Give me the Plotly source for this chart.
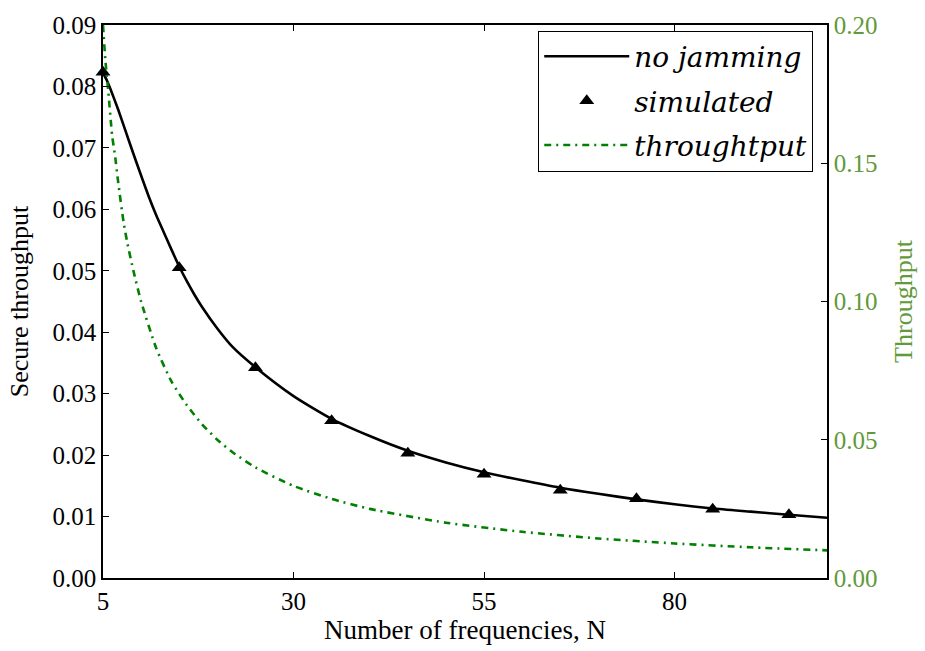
import plotly.graph_objects as go

# Secure throughput, "no jamming" analytic curve
n_line = [5, 5.5, 6, 7, 8, 9, 10, 11, 12, 13, 14, 15, 16, 17, 18, 20, 22, 25,
          30, 35, 40, 45, 50, 55, 60, 65, 70, 75, 80, 85, 90, 95, 100]
secure_line = [0.0822, 0.0810, 0.0795, 0.0762, 0.0726, 0.0690, 0.0655, 0.0621,
               0.0590, 0.0562, 0.0534, 0.0507, 0.0483, 0.0461, 0.0441, 0.0406,
               0.0376, 0.0343, 0.0296, 0.0259, 0.0231, 0.0207, 0.0188, 0.0172,
               0.0159, 0.0147, 0.0137, 0.0128, 0.0120, 0.0113, 0.0108, 0.0103,
               0.0098]

# Simulated points
n_sim = [5, 15, 25, 35, 45, 55, 65, 75, 85, 95]
secure_sim = [0.0823, 0.0505, 0.0342, 0.0256, 0.0203, 0.0169, 0.0143, 0.0129,
              0.0112, 0.0103]

# Throughput (right axis)
n_thr = [5, 5.3, 5.7, 6.2, 6.6, 7, 7.7, 8.2, 9, 10, 12, 14, 16, 18, 20, 22, 25,
         30, 35, 40, 50, 60, 70, 80, 90, 100]
throughput = [0.200, 0.1876, 0.1758, 0.160, 0.1523, 0.143, 0.1287, 0.1211,
              0.111, 0.100, 0.083, 0.071, 0.0625, 0.0556, 0.050, 0.0455, 0.040,
              0.0333, 0.0286, 0.025, 0.020, 0.0167, 0.0143, 0.0125, 0.0111,
              0.0100]

x_ticks = [5, 30, 55, 80]
y_ticks = [0.00, 0.01, 0.02, 0.03, 0.04, 0.05, 0.06, 0.07, 0.08, 0.09]
y2_ticks = [0.00, 0.05, 0.10, 0.15, 0.20]

FONT = "Liberation Serif, Times New Roman, serif"
LEG_FONT = "DejaVu Serif, serif"
RIGHT_COL = "#62993a"

fig = go.Figure()
fig.add_trace(go.Scatter(x=n_line, y=secure_line, mode="lines",
                         name="<i>no jamming</i>",
                         line=dict(color="black", width=2.6, shape="spline", smoothing=0.6),
                         legendgroup="a"))
fig.add_trace(go.Scatter(x=n_sim, y=secure_sim, mode="markers",
                         name="<i>simulated</i>",
                         marker=dict(symbol="triangle-up", size=13, color="black"),
                         legendgroup="b", cliponaxis=False))
fig.add_trace(go.Scatter(x=n_thr, y=throughput, mode="lines",
                         name="<i>throughtput</i>",
                         line=dict(color="#008000", width=2.6, dash="7px,5px,2px,5px",
                                   shape="spline", smoothing=0.6),
                         yaxis="y2", legendgroup="c"))

axis_common = dict(showgrid=False, zeroline=False, showline=True, linecolor="black",
                   linewidth=1.5, ticks="inside", ticklen=6, tickwidth=1.2,
                   tickcolor="black")

fig.update_layout(
    width=925, height=651,
    margin=dict(l=103, r=96, t=15, b=69),
    paper_bgcolor="white", plot_bgcolor="white",
    font=dict(family=FONT, size=22, color="black"),
    xaxis=dict(range=[5, 100], tickvals=x_ticks, mirror="ticks",
               tickfont=dict(size=25),
               title=dict(text="Number of frequencies, N", font=dict(size=27), standoff=5),
               **axis_common),
    yaxis=dict(range=[0, 0.09], tickvals=y_ticks, tickformat=".2f",
               tickfont=dict(size=25),
               title=dict(text="Secure throughput", font=dict(size=26), standoff=16),
               **axis_common),
    yaxis2=dict(range=[0, 0.20], tickvals=y2_ticks, tickformat=".2f",
                overlaying="y", side="right",
                tickfont=dict(size=25, color=RIGHT_COL),
                title=dict(text="Throughput", font=dict(size=26, color=RIGHT_COL), standoff=17),
                **axis_common),
    legend=dict(x=0.981, y=0.99, xanchor="right", yanchor="top",
                bgcolor="white", bordercolor="black", borderwidth=1,
                font=dict(family=LEG_FONT, size=28),
                traceorder="grouped", tracegroupgap=5, itemwidth=85),
    showlegend=True,
)

fig.write_html("out.html")
